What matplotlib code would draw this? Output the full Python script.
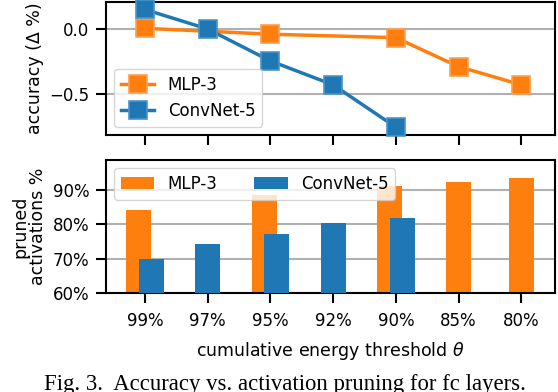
import matplotlib
matplotlib.use("Agg")
import matplotlib.pyplot as plt
import numpy as np

thresholds = ["99%", "97%", "95%", "92%", "90%", "85%", "80%"]

# accuracy change (delta %), None where not measured
mlp_acc = [0.005, None, -0.04, None, -0.067, -0.29, -0.43]
conv_acc = [0.15, 0.0, -0.246, -0.43, -0.756, None, None]

# pruned activations %
mlp_pruned = [84.2, None, 88.7, None, 91.1, 92.5, 93.6]
conv_pruned = [69.9, 74.4, 77.2, 80.3, 81.9, None, None]

orange = "#ff7f0e"
blue = "#1f77b4"

plt.rcParams["font.family"] = "DejaVu Sans"
plt.rcParams["font.size"] = 12
plt.rcParams["axes.labelsize"] = 12.5
plt.rcParams["axes.linewidth"] = 1.5
plt.rcParams["xtick.major.width"] = 1.5
plt.rcParams["ytick.major.width"] = 1.5
plt.rcParams["xtick.major.size"] = 7
plt.rcParams["ytick.major.size"] = 7
plt.rcParams["xtick.major.pad"] = 7
plt.rcParams["ytick.major.pad"] = 5

fig = plt.figure(figsize=(5.58, 3.92), dpi=100)
ax1 = fig.add_axes([0.19, 0.656, 0.805, 0.339])
ax2 = fig.add_axes([0.19, 0.253, 0.805, 0.339])

x = np.arange(len(thresholds))


def pts(vals):
    xs = [i for i, v in enumerate(vals) if v is not None]
    ys = [v for v in vals if v is not None]
    return xs, ys


xm, ym = pts(mlp_acc)
xc, yc = pts(conv_acc)
ax1.plot(xm, ym, "s-", color=orange, lw=2.5, ms=13, mec="#ffa050", mew=1.2,
         mfc=orange, label="MLP-3", clip_on=False, zorder=3)
ax1.plot(xc, yc, "s-", color=blue, lw=2.5, ms=13, mec="#4a94c8", mew=1.2,
         mfc=blue, label="ConvNet-5", clip_on=False, zorder=4)
ax1.set_ylim(-0.815, 0.208)
ax1.set_yticks([0.0, -0.5])
ax1.set_yticklabels(["0.0", "\u22120.5"])
ax1.set_xlim(-0.62, 6.54)
ax1.set_xticks(x)
ax1.set_xticklabels([])
ax1.grid(axis="y", color="#b0b0b0", lw=1.5)
ax1.set_axisbelow(True)
ax1.set_ylabel("accuracy (\u0394 %)")
ax1.legend(loc="lower left", handlelength=2.0)

w = 0.4
for i in range(len(thresholds)):
    both = mlp_pruned[i] is not None and conv_pruned[i] is not None
    off = 0.1 if both else 0.0
    if mlp_pruned[i] is not None:
        ax2.bar(i - off, mlp_pruned[i], width=w, color=orange,
                label="MLP-3" if i == 0 else None, zorder=2)
    if conv_pruned[i] is not None:
        ax2.bar(i + off, conv_pruned[i], width=w, color=blue,
                label="ConvNet-5" if i == 0 else None, zorder=3)
ax2.set_ylim(60, 98.8)
ax2.set_yticks([60, 70, 80, 90])
ax2.set_yticklabels(["60%", "70%", "80%", "90%"])
ax2.set_xlim(-0.62, 6.54)
ax2.set_xticks(x)
ax2.set_xticklabels(thresholds)
ax2.grid(axis="y", color="#b0b0b0", lw=1.5)
ax2.set_axisbelow(True)
ax2.set_ylabel("pruned\nactivations %", linespacing=1.0)
ax2.set_xlabel("cumulative energy threshold $\\theta$", labelpad=7)
ax2.legend(loc="upper left", ncol=2, columnspacing=2.2)

fig.text(0.51, 0.004, "Fig. 3.  Accuracy vs. activation pruning for fc layers.",
         ha="center", va="baseline", family="Liberation Serif", fontsize=16.4)

fig.savefig("out.png", dpi=100)
